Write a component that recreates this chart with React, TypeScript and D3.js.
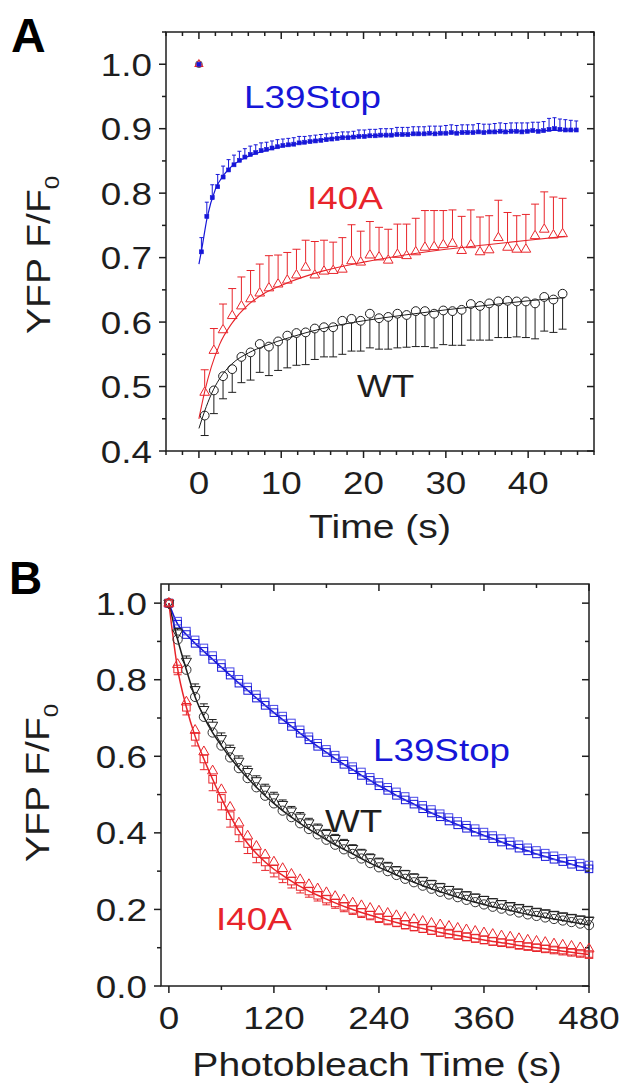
import React from 'react';
import * as d3 from 'd3';

// ---------- panel A: YFP recovery (Time, s) ----------
const aXTicks = [0, 10, 20, 30, 40];
const aYTicks = [0.4, 0.5, 0.6, 0.7, 0.8, 0.9, 1.0];

// WT (circles) and I40A (triangles) share the same sampling
const aSlowTimes = d3.range(40).map(i => 0.7 + 1.115 * i);
const aWtValues = [
  0.455, 0.494, 0.516, 0.527, 0.546, 0.553, 0.566, 0.562, 0.570, 0.579,
  0.583, 0.584, 0.590, 0.592, 0.592, 0.602, 0.605, 0.602, 0.613, 0.606,
  0.608, 0.613, 0.611, 0.617, 0.617, 0.613, 0.618, 0.617, 0.619, 0.628,
  0.625, 0.629, 0.632, 0.633, 0.632, 0.632, 0.629, 0.639, 0.635, 0.644,
];
const aWtErr = [
  0.031, 0.036, 0.035, 0.036, 0.040, 0.043, 0.044, 0.045, 0.045, 0.050,
  0.050, 0.050, 0.048, 0.046, 0.046, 0.052, 0.050, 0.047, 0.053, 0.048,
  0.050, 0.053, 0.050, 0.055, 0.055, 0.053, 0.053, 0.053, 0.055, 0.056,
  0.053, 0.057, 0.056, 0.057, 0.055, 0.056, 0.055, 0.053, 0.051, 0.055,
];
const aRedValues = [
  0.491, 0.556, 0.588, 0.610, 0.625, 0.636, 0.645, 0.653, 0.659, 0.665,
  0.673, 0.685, 0.673, 0.679, 0.680, 0.682, 0.695, 0.693, 0.704, 0.701,
  0.696, 0.705, 0.703, 0.709, 0.716, 0.717, 0.720, 0.722, 0.711, 0.720,
  0.709, 0.712, 0.731, 0.716, 0.713, 0.713, 0.734, 0.744, 0.735, 0.737,
];
const aRedErr = [
  0.035, 0.034, 0.040, 0.042, 0.045, 0.044, 0.045, 0.050, 0.045, 0.043,
  0.040, 0.042, 0.052, 0.048, 0.044, 0.049, 0.056, 0.048, 0.052, 0.046,
  0.048, 0.047, 0.049, 0.052, 0.057, 0.056, 0.053, 0.052, 0.053, 0.054,
  0.054, 0.053, 0.058, 0.054, 0.052, 0.054, 0.049, 0.058, 0.059, 0.055,
];

// L39Stop is sampled twice as often
const aBlueTimes = d3.range(70).map(i => 0.3 + 0.66 * i);
const aBlueValues = [
  0.709, 0.764, 0.793, 0.810, 0.825, 0.836, 0.844, 0.851, 0.856, 0.860,
  0.863, 0.866, 0.868, 0.870, 0.872, 0.874, 0.875, 0.876, 0.878, 0.879,
  0.880, 0.881, 0.882, 0.883, 0.884, 0.885, 0.886, 0.886, 0.887, 0.888,
  0.888, 0.889, 0.889, 0.890, 0.890, 0.890, 0.891, 0.891, 0.891, 0.892,
  0.892, 0.892, 0.893, 0.892, 0.893, 0.893, 0.894, 0.893, 0.894, 0.894,
  0.894, 0.895, 0.894, 0.895, 0.895, 0.896, 0.895, 0.896, 0.896, 0.895,
  0.896, 0.897, 0.896, 0.897, 0.899, 0.900, 0.899, 0.898, 0.898, 0.898,
];
const aBlueErr = [
  0.022, 0.022, 0.020, 0.019, 0.017, 0.016, 0.015, 0.014, 0.013, 0.013,
  0.012, 0.012, 0.011, 0.011, 0.011, 0.010, 0.010, 0.010, 0.010, 0.009,
  0.009, 0.009, 0.009, 0.009, 0.009, 0.009, 0.009, 0.009, 0.009, 0.010,
  0.010, 0.010, 0.010, 0.010, 0.010, 0.010, 0.011, 0.011, 0.011, 0.011,
  0.011, 0.011, 0.011, 0.012, 0.011, 0.012, 0.012, 0.012, 0.012, 0.012,
  0.012, 0.013, 0.013, 0.012, 0.013, 0.013, 0.013, 0.013, 0.013, 0.014,
  0.013, 0.013, 0.014, 0.014, 0.017, 0.017, 0.016, 0.016, 0.015, 0.014,
];

// fitted recovery curves
const aFitTimes = [0, 0.7, 1.5, 2.5, 4, 6, 8, 11, 15, 20, 25, 30, 35, 40, 44.5];
const aWtFit = [0.435, 0.462, 0.488, 0.512, 0.535, 0.552, 0.563, 0.576, 0.590, 0.602, 0.611, 0.619, 0.626, 0.633, 0.638];
const aRedFit = [0.45, 0.492, 0.53, 0.565, 0.598, 0.627, 0.645, 0.662, 0.679, 0.693, 0.704, 0.713, 0.720, 0.727, 0.733];
const aBlueFitTimes = [0, 0.3, 1, 2, 3, 4, 6, 9, 13, 17, 25, 35, 45.8];
const aBlueFit = [0.69, 0.71, 0.762, 0.806, 0.828, 0.842, 0.857, 0.869, 0.879, 0.886, 0.891, 0.895, 0.898];

// ---------- panel B: photobleaching (s) ----------
const bXTicks = [0, 120, 240, 360, 480];
const bYTicks = [0, 0.2, 0.4, 0.6, 0.8, 1.0];
const bTimes = d3.range(0, 481, 10);

const bBlueUpper = [
  1.000, 0.953, 0.927, 0.904, 0.883, 0.863, 0.842, 0.821, 0.801, 0.781,
  0.761, 0.742, 0.723, 0.705, 0.687, 0.669, 0.651, 0.634, 0.618, 0.603,
  0.588, 0.573, 0.559, 0.545, 0.532, 0.519, 0.507, 0.495, 0.483, 0.472,
  0.461, 0.450, 0.440, 0.430, 0.420, 0.411, 0.402, 0.393, 0.385, 0.377,
  0.369, 0.361, 0.354, 0.347, 0.340, 0.333, 0.327, 0.321, 0.316,
];
const bBlueLower = [
  1.000, 0.945, 0.918, 0.895, 0.874, 0.853, 0.832, 0.812, 0.791, 0.772,
  0.752, 0.733, 0.714, 0.696, 0.678, 0.660, 0.643, 0.626, 0.610, 0.594,
  0.579, 0.565, 0.550, 0.537, 0.523, 0.511, 0.498, 0.486, 0.475, 0.463,
  0.452, 0.442, 0.431, 0.421, 0.412, 0.402, 0.393, 0.385, 0.376, 0.368,
  0.360, 0.353, 0.345, 0.338, 0.331, 0.325, 0.318, 0.312, 0.306,
];
const bWtTri = [
  1.000, 0.922, 0.848, 0.774, 0.722, 0.681, 0.646, 0.615, 0.587, 0.560,
  0.536, 0.514, 0.493, 0.474, 0.457, 0.441, 0.426, 0.412, 0.398, 0.385,
  0.372, 0.359, 0.347, 0.335, 0.324, 0.313, 0.303, 0.293, 0.284, 0.275,
  0.267, 0.259, 0.252, 0.245, 0.238, 0.232, 0.226, 0.220, 0.215, 0.210,
  0.205, 0.200, 0.195, 0.191, 0.187, 0.183, 0.179, 0.175, 0.172,
];
const bWtTriErr = [
  0, 0.012, 0.014, 0.015, 0.015, 0.015, 0.015, 0.014, 0.014, 0.014,
  0.013, 0.013, 0.013, 0.012, 0.012, 0.012, 0.012, 0.011, 0.011, 0.011,
  0.011, 0.010, 0.010, 0.010, 0.010, 0.010, 0.009, 0.009, 0.009, 0.009,
  0.009, 0.009, 0.008, 0.008, 0.008, 0.008, 0.008, 0.008, 0.008, 0.007,
  0.007, 0.007, 0.007, 0.007, 0.007, 0.007, 0.007, 0.007, 0.007,
];
const bWtCirc = [
  1.000, 0.905, 0.826, 0.755, 0.703, 0.662, 0.628, 0.597, 0.569, 0.543,
  0.519, 0.497, 0.477, 0.458, 0.441, 0.425, 0.410, 0.396, 0.382, 0.369,
  0.357, 0.345, 0.333, 0.321, 0.310, 0.300, 0.290, 0.280, 0.271, 0.262,
  0.254, 0.246, 0.239, 0.232, 0.225, 0.219, 0.213, 0.207, 0.202, 0.197,
  0.192, 0.187, 0.183, 0.179, 0.175, 0.171, 0.167, 0.163, 0.159,
];
const bRedTri = [
  1.000, 0.840, 0.742, 0.668, 0.612, 0.562, 0.513, 0.467, 0.426, 0.392,
  0.365, 0.343, 0.324, 0.307, 0.292, 0.278, 0.265, 0.254, 0.244, 0.234,
  0.225, 0.217, 0.210, 0.203, 0.196, 0.190, 0.184, 0.179, 0.174, 0.169,
  0.164, 0.160, 0.156, 0.151, 0.147, 0.143, 0.139, 0.135, 0.131, 0.128,
  0.124, 0.120, 0.117, 0.114, 0.110, 0.107, 0.104, 0.100, 0.097,
];
const bRedSq = [
  1.000, 0.828, 0.728, 0.652, 0.593, 0.540, 0.490, 0.445, 0.405, 0.372,
  0.346, 0.324, 0.305, 0.289, 0.274, 0.260, 0.248, 0.237, 0.227, 0.217,
  0.208, 0.200, 0.192, 0.185, 0.178, 0.172, 0.166, 0.160, 0.155, 0.150,
  0.145, 0.140, 0.136, 0.132, 0.128, 0.124, 0.120, 0.116, 0.113, 0.110,
  0.106, 0.103, 0.100, 0.097, 0.094, 0.091, 0.088, 0.085, 0.082,
];
const bRedSqErr = [
  0, 0.015, 0.020, 0.025, 0.028, 0.030, 0.030, 0.030, 0.028, 0.026,
  0.024, 0.022, 0.020, 0.019, 0.018, 0.017, 0.016, 0.015, 0.015, 0.014,
  0.014, 0.013, 0.013, 0.012, 0.012, 0.012, 0.011, 0.011, 0.011, 0.010,
  0.010, 0.010, 0.010, 0.009, 0.009, 0.009, 0.009, 0.009, 0.008, 0.008,
  0.008, 0.008, 0.008, 0.008, 0.007, 0.007, 0.007, 0.007, 0.007,
];

const INK = '#1e1e1e';
const BLUE = '#1616d8';
const RED = '#e8242a';
const FONT = '"Liberation Sans", Arial, Helvetica, sans-serif';
const STRETCH = 1.15; // the source lettering is a bit wide

const xA = d3.scaleLinear().domain([-4, 48]).range([166, 594]);
const yA = d3.scaleLinear().domain([0.4, 1.05]).range([451, 32]);
const xB = d3.scaleLinear().domain([-9, 480]).range([161, 589]);
const yB = d3.scaleLinear().domain([0, 1.05]).range([986, 584]);

const Label = ({ x, y, size = 32, anchor = 'start', fill = INK, children }: any) => (
  <text transform={`translate(${x},${y}) scale(${STRETCH},1)`} fontSize={size}
    textAnchor={anchor} fill={fill} fontFamily={FONT}>{children}</text>
);

const Frame = ({ x, y, xMajor, xMinor, yMajor, yMinor, fmtY, labelGap }: any) => {
  const [l, r] = x.range();
  const [b, t] = y.range();
  const maj = 7, min = 4;
  const isMaj = (arr: number[], v: number) => arr.some(m => Math.abs(m - v) < 1e-6);
  const xm = xMinor.filter((v: number) => !isMaj(xMajor, v));
  const ym = yMinor.filter((v: number) => !isMaj(yMajor, v));
  return (
    <g stroke={INK} strokeWidth={1.5}>
      <rect x={l} y={t} width={r - l} height={b - t} fill="none" />
      {xMajor.map((v: number) => (
        <g key={'xM' + v}>
          <line x1={x(v)} x2={x(v)} y1={b} y2={b + maj} />
          <line x1={x(v)} x2={x(v)} y1={t} y2={t + maj} />
        </g>
      ))}
      {xm.map((v: number) => (
        <g key={'xm' + v}>
          <line x1={x(v)} x2={x(v)} y1={b} y2={b + min} />
          <line x1={x(v)} x2={x(v)} y1={t} y2={t + min} />
        </g>
      ))}
      {yMajor.map((v: number) => (
        <g key={'yM' + v}>
          <line x1={l} x2={l - maj} y1={y(v)} y2={y(v)} />
          <line x1={r} x2={r - maj} y1={y(v)} y2={y(v)} />
        </g>
      ))}
      {ym.map((v: number) => (
        <g key={'ym' + v}>
          <line x1={l} x2={l - min} y1={y(v)} y2={y(v)} />
          <line x1={r} x2={r - min} y1={y(v)} y2={y(v)} />
        </g>
      ))}
      <g stroke="none">
        {xMajor.map((v: number) => (
          <Label key={'xl' + v} x={x(v)} y={b + labelGap} anchor="middle">{v}</Label>
        ))}
        {yMajor.map((v: number) => (
          <Label key={'yl' + v} x={l - 14} y={y(v) + 11.5} anchor="end">{fmtY(v)}</Label>
        ))}
      </g>
    </g>
  );
};

const triUp = 'M0,-5.2L4.6,2.8L-4.6,2.8Z';
const triDown = 'M0,5.2L4.6,-2.8L-4.6,-2.8Z';

const Marker = ({ kind, cx, cy, color, size = 1 }: any) => {
  if (kind === 'circle') return <circle cx={cx} cy={cy} r={4.2 * size} fill="none" stroke={color} />;
  if (kind === 'square') return <rect x={cx - 3.6 * size} y={cy - 3.6 * size} width={7.2 * size} height={7.2 * size} fill="none" stroke={color} />;
  if (kind === 'dot') return <rect x={cx - 2} y={cy - 2} width={4} height={4} fill={color} stroke={color} strokeWidth={0.6} />;
  return <path d={kind === 'up' ? triUp : triDown} transform={`translate(${cx},${cy}) scale(${size})`}
    fill="none" stroke={color} strokeWidth={1 / size} />;
};

const ErrBars = ({ xs, vs, es, x, y, dir, gap, cap, color, w = 1 }: any) => (
  <g stroke={color} strokeWidth={w}>
    {xs.map((t: number, i: number) => {
      if (!es[i]) return null;
      const px = x(t);
      const y0 = y(vs[i]) + dir * gap;
      const y1 = y(vs[i] + (dir < 0 ? es[i] : -es[i]));
      return (
        <g key={i}>
          <line x1={px} x2={px} y1={y0} y2={y1} />
          <line x1={px - cap / 2} x2={px + cap / 2} y1={y1} y2={y1} />
        </g>
      );
    })}
  </g>
);

const Points = ({ xs, vs, x, y, kind, color, size }: any) => (
  <g strokeWidth={1}>
    {xs.map((t: number, i: number) => (
      <Marker key={i} kind={kind} cx={x(t)} cy={y(vs[i])} color={color} size={size} />
    ))}
  </g>
);

const curve = (x: any, y: any, ts: number[], vs: number[]) =>
  d3.line<number>().x((_, i) => x(ts[i])).y(v => y(v)).curve(d3.curveMonotoneX)(vs) || '';

const YTitle = ({ x, y }: any) => (
  <text transform={`translate(${x},${y}) rotate(-90) scale(${STRETCH},1)`} fontSize={34} fill={INK} fontFamily={FONT}>
    YFP F/F<tspan fontSize={21} dy={9}>0</tspan>
  </text>
);

export default function App() {
  return (
    <svg width={623} height={1084} style={{ position: 'absolute', left: 0, top: 0, background: '#fff' }}>
      <rect width={623} height={1084} fill="#fff" />

      {/* ---------------- panel A ---------------- */}
      <text x={11} y={52} fontSize={48} fontWeight="bold" fontFamily={FONT} fill="#000">A</text>
      <YTitle x={50} y={334} />
      <Frame x={xA} y={yA} xMajor={aXTicks} xMinor={d3.range(-4, 48.1, 2)}
        yMajor={aYTicks} yMinor={d3.range(0.4, 1.051, 0.05).map(v => +v.toFixed(2))}
        fmtY={(v: number) => v.toFixed(1)} labelGap={43} />

      <path d={curve(xA, yA, aBlueFitTimes, aBlueFit)} fill="none" stroke={BLUE} strokeWidth={1.2} />
      <path d={curve(xA, yA, aFitTimes, aRedFit)} fill="none" stroke={RED} strokeWidth={1.1} />
      <path d={curve(xA, yA, aFitTimes, aWtFit)} fill="none" stroke={INK} strokeWidth={1} />

      <ErrBars xs={aSlowTimes} vs={aWtValues} es={aWtErr} x={xA} y={yA} dir={1} gap={4.4} cap={8} color={INK} />
      <Points xs={aSlowTimes} vs={aWtValues} x={xA} y={yA} kind="circle" color={INK} size={1.05} />
      <ErrBars xs={aSlowTimes} vs={aRedValues} es={aRedErr} x={xA} y={yA} dir={-1} gap={5.5} cap={8} color={RED} />
      <Points xs={aSlowTimes} vs={aRedValues} x={xA} y={yA} kind="up" color={RED} size={1.05} />
      <ErrBars xs={aBlueTimes} vs={aBlueValues} es={aBlueErr} x={xA} y={yA} dir={-1} gap={2} cap={4} color={BLUE} />
      <Points xs={aBlueTimes} vs={aBlueValues} x={xA} y={yA} kind="dot" color={BLUE} />

      {/* normalised starting point shared by all three constructs */}
      <Marker kind="circle" cx={xA(0)} cy={yA(1)} color="#555" size={0.8} />
      <Marker kind="up" cx={xA(0)} cy={yA(1)} color={RED} size={0.85} />
      <Marker kind="dot" cx={xA(0)} cy={yA(1)} color={BLUE} />

      <Label x={244} y={108} fill={BLUE}>L39Stop</Label>
      <Label x={307} y={209} fill={RED}>I40A</Label>
      <Label x={357} y={397}>WT</Label>
      <Label x={380} y={538} size={34} anchor="middle">Time (s)</Label>

      {/* ---------------- panel B ---------------- */}
      <text x={9} y={594} fontSize={46} fontWeight="bold" fontFamily={FONT} fill="#000">B</text>
      <YTitle x={49} y={862} />
      <Frame x={xB} y={yB} xMajor={bXTicks} xMinor={d3.range(0, 481, 60)}
        yMajor={bYTicks} yMinor={d3.range(0, 1.051, 0.1).map(v => +v.toFixed(2))}
        fmtY={(v: number) => v.toFixed(1)} labelGap={43} />

      <path d={curve(xB, yB, bTimes, bBlueLower)} fill="none" stroke={BLUE} strokeWidth={1.6} />
      <path d={curve(xB, yB, bTimes, bWtCirc)} fill="none" stroke={INK} strokeWidth={1.5} />
      <path d={curve(xB, yB, bTimes, bRedSq)} fill="none" stroke={RED} strokeWidth={1.5} />

      <Points xs={bTimes} vs={bBlueUpper} x={xB} y={yB} kind="square" color="#4a4ae8" size={1.05} />
      <Points xs={bTimes} vs={bBlueLower} x={xB} y={yB} kind="square" color={BLUE} size={1.05} />

      <Points xs={bTimes} vs={bWtCirc} x={xB} y={yB} kind="circle" color="#333" size={1.1} />
      <ErrBars xs={bTimes} vs={bWtTri} es={bWtTriErr} x={xB} y={yB} dir={-1} gap={3} cap={8} color={INK} />
      <Points xs={bTimes} vs={bWtTri} x={xB} y={yB} kind="down" color={INK} size={1.1} />

      <Points xs={bTimes} vs={bRedTri} x={xB} y={yB} kind="up" color={RED} size={1.1} />
      <ErrBars xs={bTimes} vs={bRedSq} es={bRedSqErr} x={xB} y={yB} dir={1} gap={3.8} cap={8} color={RED} />
      <Points xs={bTimes} vs={bRedSq} x={xB} y={yB} kind="square" color={RED} size={1.05} />

      <Label x={373} y={761} fill={BLUE}>L39Stop</Label>
      <Label x={325} y={832}>WT</Label>
      <Label x={216} y={930} fill={RED}>I40A</Label>
      <Label x={377} y={1076} size={34} anchor="middle">Photobleach Time (s)</Label>
    </svg>
  );
}
